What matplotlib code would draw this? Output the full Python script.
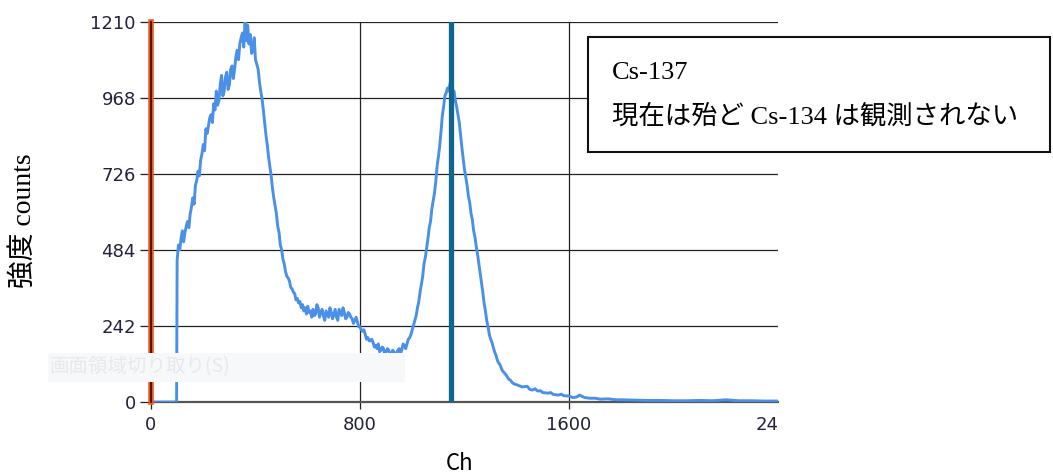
import matplotlib as mpl
mpl.use('Agg')
import matplotlib.pyplot as plt
from matplotlib.patches import Rectangle

# spectrum
# flat zero before the threshold
ch_low = [0, 97, 98]
counts_low = [0, 0, 0]

# dense part, channels 100..1400 every 5 ch (one row = 50 ch)
ch_dense = list(range(100, 1405, 5))
counts_dense = [
    450, 500, 485, 520, 545, 510, 540, 560, 575, 555,
    600, 620, 650, 630, 690, 705, 735, 720, 770, 790,
    820, 800, 870, 855, 880, 905, 915, 890, 950, 930,
    990, 945, 960, 1010, 1040, 975, 990, 1035, 1050, 995,
    1010, 1060, 1070, 1030, 1060, 1100, 1120, 1090, 1140, 1160,
    1175, 1130, 1210, 1150, 1200, 1140, 1170, 1110, 1120, 1160,
    1090, 1075, 1060, 1020, 990, 965, 930, 890, 850, 820,
    780, 750, 720, 680, 650, 625, 600, 560, 540, 500,
    485, 455, 440, 415, 400, 395, 385, 365, 360, 350,
    345, 325, 330, 315, 320, 300, 310, 290, 300, 280,
    305, 285, 290, 270, 295, 275, 280, 310, 300, 270,
    285, 295, 275, 260, 290, 280, 270, 300, 285, 265,
    280, 295, 270, 260, 295, 285, 275, 300, 285, 265,
    270, 285, 280, 270, 265, 250, 260, 270, 255, 240,
    240, 230, 225, 230, 215, 200, 205, 195, 195, 200,
    190, 175, 180, 170, 185, 160, 165, 175, 170, 150,
    160, 170, 165, 150, 150, 165, 160, 145, 155, 165,
    170, 155, 165, 185, 180, 170, 185, 200, 205, 215,
    230, 245, 260, 275, 300, 320, 350, 375, 400, 440,
    460, 490, 520, 555, 575, 615, 640, 665, 700, 750,
    780, 815, 860, 910, 940, 975, 985, 1000, 990, 1015,
    1005, 985, 990, 960, 940, 915, 890, 850, 810, 775,
    740, 715, 690, 655, 635, 600, 580, 545, 525, 495,
    470, 440, 410, 380, 350, 315, 290, 260, 240, 215,
    200, 190, 175, 160, 150, 135, 125, 120, 110, 100,
    95, 90, 85, 78, 72, 70, 65, 60, 58, 56,
    55,
]

# long tail
ch_tail = [1420, 1440, 1450, 1460, 1470, 1480, 1490, 1500, 1520, 1530, 1540,
           1560, 1570, 1580, 1600, 1615, 1630, 1640, 1660, 1680, 1700, 1720,
           1750, 1780, 1800, 1850, 1900, 1950, 2000, 2050, 2100, 2150, 2200,
           2250, 2300, 2350, 2400]
counts_tail = [48, 50, 40, 38, 42, 35, 36, 30, 28, 30, 24,
               22, 25, 20, 19, 14, 16, 22, 14, 12, 12, 9,
               10, 7, 7, 6, 5, 5, 4, 4, 5, 4, 7,
               4, 4, 3, 3]

ch = ch_low + ch_dense + ch_tail
counts = counts_low + counts_dense + counts_tail

xticks = [0, 800, 1600, 2400]
yticks = [0, 242, 484, 726, 968, 1210]
marker_lines = [0, 1148]  # red start line, Cs-137 peak line

plt.rcParams['font.family'] = ['DejaVu Sans']

fig = plt.figure(figsize=(10.53, 4.76), dpi=100)
ax = fig.add_axes([151/1053, 1 - 402/476, 627/1053, 380/476])

# faint leftover screen-capture button
fig.patches.append(Rectangle((48/1053, 1 - 382/476), 357/1053, 29/476,
                             transform=fig.transFigure, facecolor='#f7f8fa',
                             edgecolor='none', zorder=0))
fig.text(50/1053, 1 - 367/476, '画面領域切り取り(S)', color='#e8e9ec', fontsize=14,
         va='center', family=['Noto Sans CJK JP', 'DejaVu Sans'], zorder=0.5)
ax.patch.set_alpha(0)

for y in yticks[1:]:
    ax.axhline(y, color='#222222', lw=0.9, zorder=1)
for x in xticks[1:3]:
    ax.axvline(x, color='#222222', lw=0.9, zorder=1)

ax.plot(ch, counts, color='#4a8fe8', lw=2.1, zorder=3)

ax.axvline(marker_lines[0], color='#f0561e', lw=4.0, zorder=4, clip_on=False)
ax.axvline(marker_lines[0], color='#2a0a00', lw=1.2, zorder=5, clip_on=False)
ax.axvline(marker_lines[1], color='#0f6690', lw=3.8, zorder=4)

ax.set_xlim(0, 2400)
ax.set_ylim(0, 1210)
for s in ['top', 'right', 'left']:
    ax.spines[s].set_visible(False)
ax.spines['bottom'].set_color('#555555')
ax.spines['bottom'].set_linewidth(1.6)
ax.spines['bottom'].set_zorder(2)

ax.set_yticks(yticks)
ax.set_xticks(xticks)
ax.set_xticklabels([str(t) for t in xticks])
ax.tick_params(axis='y', length=8, width=0.9, color='#222222', pad=3,
               labelsize=13, labelcolor='#22223a')
ax.tick_params(axis='x', length=5, width=0.9, color='#222222', pad=5,
               labelsize=13, labelcolor='#22223a')
ax.xaxis.get_major_ticks()[-1].tick1line.set_visible(False)

# right end label is cut at the plot edge
clip = Rectangle((0, 0), 778/1053, 1, transform=fig.transFigure)
lab = ax.get_xticklabels()[-1]
lab.set_clip_path(clip)
lab.set_clip_on(True)

fig.text(460/1053, 1 - 463/476, 'Ch', ha='center', va='center', fontsize=16,
         family=['Noto Sans CJK JP', 'DejaVu Sans'])
fig.text(24/1053, 1 - 221/476, '強度 counts', rotation=90, ha='center', va='center',
         fontsize=20, family=['Liberation Serif', 'Noto Sans CJK JP'])

# annotation box
fig.patches.append(Rectangle((588/1053, 1 - 152/476), 462/1053, 115/476,
                             transform=fig.transFigure, facecolor='white',
                             edgecolor='#111111', lw=1.5, zorder=6))
fig.text(612/1053, 1 - 73/476, 'Cs-137', va='center', fontsize=19, zorder=7,
         family=['Liberation Serif', 'Noto Sans CJK JP'])
fig.text(612/1053, 1 - 116/476, '現在は殆ど Cs-134 は観測されない', va='center',
         fontsize=19, zorder=7, family=['Liberation Serif', 'Noto Sans CJK JP'])

plt.savefig('out.png', dpi=100)
